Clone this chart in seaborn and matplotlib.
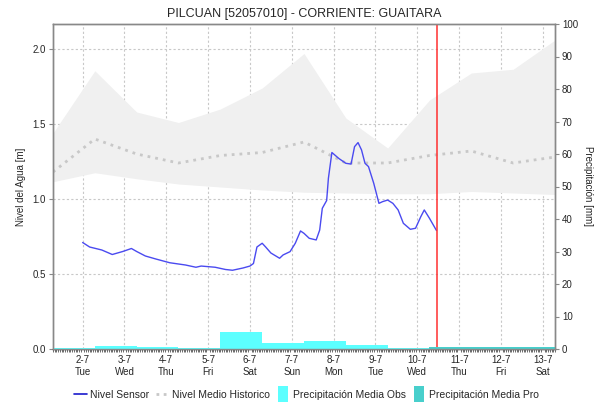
import pandas as pd
import numpy as np
import matplotlib.pyplot as plt
import matplotlib.dates as mdates
from matplotlib.lines import Line2D
import seaborn as sns

# estilo general
sns.set_style("white")
plt.rcParams['font.family'] = ['Liberation Sans', 'DejaVu Sans']
plt.rcParams['font.size'] = 7

# datos del sensor (horas desde 2-7 00:00, nivel en m)
sensor_hours = [0, 4, 11, 17, 23, 28, 31, 36, 42, 50, 59, 65, 68, 76, 82, 86,
                92, 96, 98, 100, 103, 105, 108, 113, 115, 119, 122, 125, 127,
                130, 134, 136, 137.5, 140, 141, 143, 147, 151, 154, 156, 158,
                160, 162, 164, 167, 170, 172, 175, 178, 181, 184, 188, 191,
                194, 196, 199, 203]
sensor_level = [0.71, 0.68, 0.66, 0.63, 0.65, 0.67, 0.65, 0.62, 0.60, 0.575,
                0.56, 0.545, 0.553, 0.545, 0.53, 0.525, 0.54, 0.553, 0.57,
                0.68, 0.705, 0.68, 0.64, 0.605, 0.627, 0.649, 0.705, 0.787,
                0.771, 0.738, 0.727, 0.793, 0.938, 0.99, 1.138, 1.31, 1.27,
                1.238, 1.233, 1.349, 1.376, 1.327, 1.238, 1.216, 1.105, 0.971,
                0.982, 0.993, 0.971, 0.927, 0.838, 0.798, 0.805, 0.882, 0.927,
                0.871, 0.79]

# historico diario (1-7 ... 13-7, 07:00)
hist_days = pd.date_range('2024-07-01 07:00', '2024-07-13 07:00', freq='D')
hist_max = [1.44, 1.855, 1.58, 1.51, 1.60, 1.74, 1.97, 1.54, 1.34, 1.66, 1.84, 1.865, 2.06]
hist_min = [1.115, 1.175, 1.135, 1.10, 1.08, 1.06, 1.045, 1.04, 1.035, 1.035, 1.05, 1.04, 1.03]
hist_mean = [1.18, 1.40, 1.30, 1.24, 1.29, 1.31, 1.38, 1.24, 1.24, 1.29, 1.32, 1.24, 1.28]

# precipitacion diaria (dia pluviometrico desde las 07:00)
obs_days = pd.date_range('2024-07-01 07:00', periods=9, freq='D')
precip_obs = [0.4, 1.0, 0.5, 0.4, 5.3, 2.0, 2.6, 1.3, 0.3]
pro_days = pd.date_range('2024-07-10 07:00', periods=3, freq='D')
precip_pro = [0.5, 0.5, 0.5]

now_time = pd.Timestamp('2024-07-10 11:15')
tick_days = pd.date_range('2024-07-02', '2024-07-13', freq='D')

sensor = pd.DataFrame({
    'fecha': pd.Timestamp('2024-07-02') + pd.to_timedelta(sensor_hours, unit='h'),
    'nivel': sensor_level,
})
hist = pd.DataFrame({'fecha': hist_days, 'max': hist_max, 'min': hist_min, 'media': hist_mean})

fig = plt.figure(figsize=(6.03, 4.05), dpi=100)
ax = fig.add_axes([53 / 603, 1 - 349 / 405, 502 / 603, 325 / 405])
ax2 = ax.twinx()

# banda historica y media
ax.fill_between(hist['fecha'], hist['min'], hist['max'], color='#f0f0f0', lw=0, zorder=1)
sns.lineplot(data=hist, x='fecha', y='media', ax=ax, color='#c8c8c8', lw=2,
             linestyle=(0, (1, 1.8)), zorder=2)
sns.lineplot(data=sensor, x='fecha', y='nivel', ax=ax, color='#4a4af0', lw=1.0, zorder=3)
ax.axvline(now_time, color='#ff3030', lw=1.1, zorder=4)

# barras de precipitacion
ax2.bar(obs_days, precip_obs, width=1.0, align='edge', color='#5cffff', lw=0)
ax2.bar(pro_days, precip_pro, width=1.0, align='edge', color='#48cfcc', lw=0)

start = pd.Timestamp('2024-07-01 07:00')
end = pd.Timestamp('2024-07-13 07:00')
ax.set_xlim(start, end)
ax.set_ylim(0, 325 / 150)
ax2.set_ylim(0, 100)

ax.set_yticks([0, 0.5, 1.0, 1.5, 2.0])
ax.yaxis.set_major_formatter(plt.FuncFormatter(lambda v, p: f'{v:.1f}'))
ax2.set_yticks(np.arange(0, 101, 10))

ax.set_xticks(tick_days)
ax.set_xticklabels([f'{d.day}-{d.month}\n{d.strftime("%a")}' for d in tick_days],
                   linespacing=1.3)
ax.xaxis.set_minor_locator(mdates.HourLocator())

ax.grid(True, which='major', color='#c8c8c8', linestyle=(0, (2, 2)), lw=0.8)
ax.set_axisbelow(True)

ax.tick_params(axis='y', which='major', length=3, color='#888888', pad=2, labelsize=7)
ax.tick_params(axis='x', which='major', length=3, color='#555555', pad=1, labelsize=7)
ax.tick_params(axis='x', which='minor', length=2, width=0.5, color='#333333', bottom=True)
ax2.tick_params(axis='y', length=3, color='#888888', pad=2, labelsize=7)

for a in (ax, ax2):
    for s in a.spines.values():
        s.set_color('#888888')
        s.set_linewidth(1)
ax.spines['bottom'].set_color('#333333')

ax.set_xlabel('')
ax.set_ylabel('Nivel del Agua [m]', fontsize=7, labelpad=5)
ax2.set_ylabel('Precipitación [mm]', fontsize=7, rotation=270, labelpad=11)
ax.set_title('PILCUAN [52057010] - CORRIENTE: GUAITARA', fontsize=9, pad=5)

# rectangulo estrecho para las entradas de precipitacion
rect = [(-0.3, -0.5), (0.3, -0.5), (0.3, 0.5), (-0.3, 0.5)]
handles = [
    Line2D([], [], color='#1a1acc', lw=1.2),
    Line2D([], [], color='#c8c8c8', lw=2, linestyle=(0, (1, 1.6))),
    Line2D([], [], ls='none', marker=rect, markersize=11, color='#5cffff', mew=0),
    Line2D([], [], ls='none', marker=rect, markersize=11, color='#48cfcc', mew=0),
]
labels = ['Nivel Sensor', 'Nivel Medio Historico', 'Precipitación Media Obs', 'Precipitación Media Pro']
fig.legend(handles, labels, loc='center', bbox_to_anchor=(0.508, 0.025), ncol=4,
           frameon=False, fontsize=7.5, handlelength=1.3, handletextpad=0.3,
           columnspacing=0.6)

fig.savefig('out.png', dpi=100)
